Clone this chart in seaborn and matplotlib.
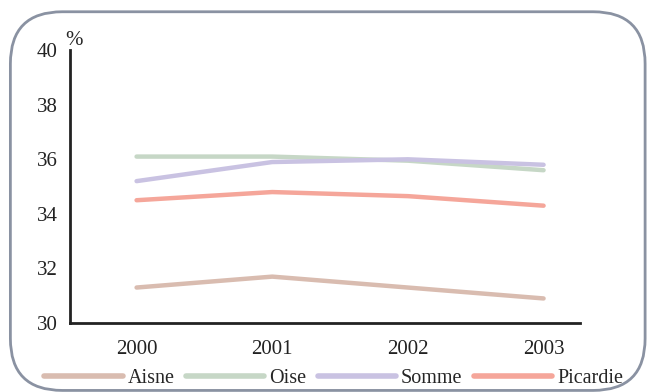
import numpy as np
import pandas as pd
import seaborn as sns
import matplotlib.pyplot as plt
from matplotlib.patches import FancyBboxPatch

years = [2000, 2001, 2002, 2003]
aisne = [31.3, 31.7, 31.3, 30.9]
oise = [36.1, 36.1, 35.95, 35.6]
somme = [35.2, 35.9, 36.0, 35.8]
picardie = [34.5, 34.8, 34.65, 34.3]
names = ['Aisne', 'Oise', 'Somme', 'Picardie']
colors = ['#d9bcb0', '#c6d7c6', '#c9c2e2', '#f5a69a']

df = pd.DataFrame({'year': years * 4,
                   'val': aisne + oise + somme + picardie,
                   'zone': sum([[n] * 4 for n in names], [])})

sns.set_style('white')
plt.rcParams['font.family'] = ['Liberation Serif', 'DejaVu Serif']

fig = plt.figure(figsize=(6.49, 3.92), dpi=100)
ax = fig.add_axes([0.108, 0.176, 0.786, 0.696])

sns.lineplot(data=df, x='year', y='val', hue='zone', palette=colors,
             linewidth=3.2, ax=ax, legend=False, solid_capstyle='round')

ax.set_xlim(1999.51, 2003.27)
ax.set_ylim(30, 40)
ax.set_xticks(years)
ax.set_yticks([30, 32, 34, 36, 38, 40])
ax.tick_params(axis='both', length=0, labelsize=15, colors='#222222')
ax.tick_params(axis='x', pad=12)
ax.tick_params(axis='y', pad=9)
ax.set_xlabel('')
ax.set_ylabel('')
for s in ['top', 'right']:
    ax.spines[s].set_visible(False)
for s in ['left', 'bottom']:
    ax.spines[s].set_color('#222222')
    ax.spines[s].set_linewidth(2)
ax.text(-0.01, 1.0, '%', transform=ax.transAxes, fontsize=15, va='bottom', ha='left')

handles = [plt.Line2D([0], [0], color=c, lw=4, solid_capstyle='round') for c in colors]
fig.legend(handles, names, loc='lower left', bbox_to_anchor=(0.04, -0.035), ncol=4,
           frameon=False, fontsize=14.5, handlelength=3.9, handletextpad=0.25,
           columnspacing=0.55)

box = FancyBboxPatch((0.016, 0.004), 0.978, 0.966, boxstyle='round,pad=0,rounding_size=0.08',
                     transform=fig.transFigure, fill=False, edgecolor='#8a92a2', lw=2,
                     mutation_aspect=649 / 392)
fig.patches.append(box)

fig.savefig('out.png', dpi=100)
